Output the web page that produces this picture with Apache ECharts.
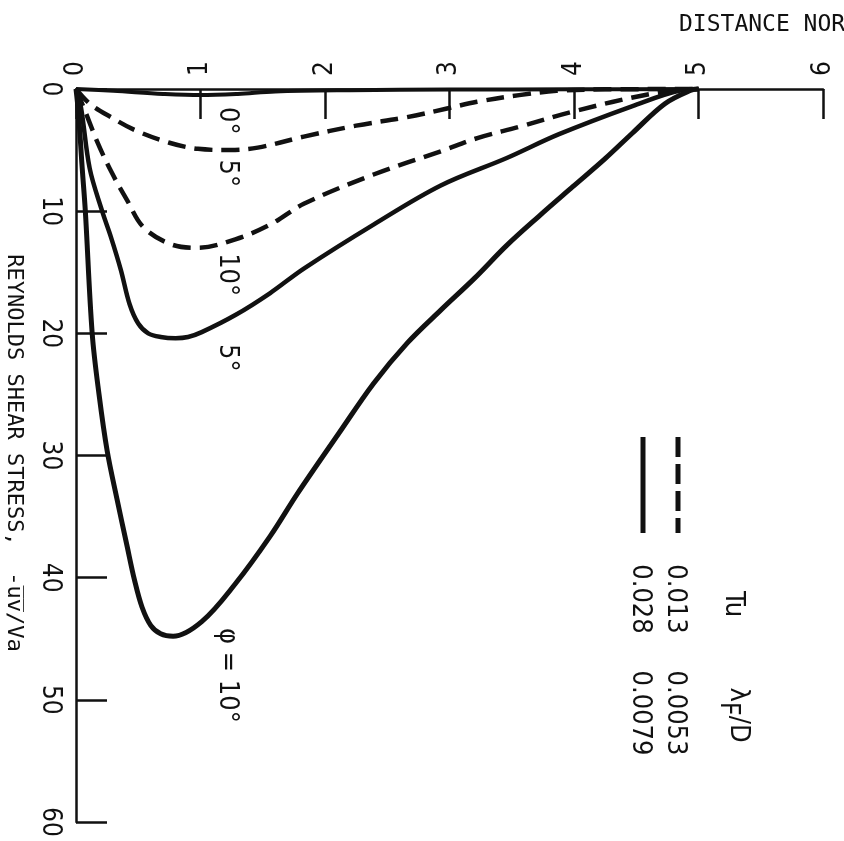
<!DOCTYPE html>
<html>
<head>
<meta charset="utf-8">
<script src="https://cdn.jsdelivr.net/npm/echarts@6/dist/echarts.min.js"></script>
<style>
  html, body { margin: 0; padding: 0; background: #fff; }
  #chart { width: 844px; height: 841px; }
</style>
</head>
<body>
<div id="chart"></div>
<script>
// Reynolds shear stress profiles across the layer, drawn turned on its side:
// distance runs along the top, stress runs downward.
const FONT = "'Liberation Sans Narrow', 'DejaVu Sans Condensed', 'Liberation Sans', sans-serif";
const MONO = "'DejaVu Sans Mono', 'Liberation Mono', monospace";
const INK = '#111';

// [distance normal, -uv/Va] pairs for each case
const solidPhi0 = [[0,0],[0.3,0.15],[0.7,0.4],[1.0,0.5],[1.3,0.4],[1.6,0.2],[2.2,0.1],[3,0.05],[4,0.02],[5,0]];
const dashedPhi5 = [[0,0],[0.11,1.2],[0.28,2.3],[0.48,3.4],[0.75,4.4],[0.98,4.9],[1.24,5.0],[1.46,4.8],[1.83,3.9],[2.25,3.0],[2.66,2.3],[2.98,1.6],[3.22,1.05],[3.56,0.5],[3.86,0.15],[4.25,0.03],[5,0]];
const dashedPhi10 = [[0,0],[0.065,1.6],[0.17,4.3],[0.28,6.7],[0.41,9.1],[0.54,11.3],[0.76,12.7],[0.98,13.0],[1.28,12.3],[1.56,11.1],[1.83,9.4],[2.39,7.0],[2.93,5.1],[3.23,4.0],[3.56,3.1],[3.99,1.85],[4.62,0.4],[5,0]];
const solidPhi5 = [[0,0],[0.04,1.5],[0.11,6.5],[0.21,10],[0.28,12.1],[0.36,14.8],[0.43,17.6],[0.5,19.2],[0.58,20.0],[0.68,20.3],[0.8,20.4],[0.9,20.3],[1.01,19.9],[1.28,18.5],[1.56,16.7],[1.83,14.7],[2.39,11.1],[2.93,7.9],[3.46,5.65],[3.88,3.7],[4.47,1.4],[4.86,0.1],[5,0]];
const solidPhi10 = [[0,0],[0.02,2],[0.05,6.5],[0.075,10],[0.13,20],[0.185,25.0],[0.25,29.6],[0.33,33.6],[0.41,37.4],[0.47,40.2],[0.53,42.4],[0.6,43.9],[0.68,44.6],[0.78,44.8],[1.01,43.6],[1.28,40.5],[1.56,36.6],[1.78,33.1],[2.11,28.2],[2.39,24.1],[2.66,20.8],[2.93,18.1],[3.2,15.5],[3.46,12.8],[3.72,10.4],[3.99,8.0],[4.25,5.7],[4.47,3.6],[4.73,1.2],[4.94,0.1],[5,0]];

// legend table values
const turbulence = ['0.013', '0.028'];
const lengthScale = ['0.0053', '0.0079'];

// curve annotations, anchored in data units [distance, stress]
const curveLabels = [
  { text: '0°', at: [1.21, 2.6] },
  { text: '5°', at: [1.21, 6.9] },
  { text: '10°', at: [1.21, 15.2] },
  { text: '5°', at: [1.21, 22.0] },
  { text: 'φ = 10°', at: [1.21, 48.0] }
];

const chart = echarts.init(document.getElementById('chart'), null, { renderer: 'canvas' });

function curve(data, dashed, width) {
  return {
    type: 'line',
    data: data,
    symbol: 'none',
    smooth: 0.35,
    clip: false,
    lineStyle: { color: INK, width: width, type: dashed ? [18, 9] : 'solid', cap: 'butt', join: 'round' },
    z: 3
  };
}

chart.setOption({
  animation: false,
  backgroundColor: '#fff',
  grid: { left: 76, top: 89, width: 747, height: 733, containLabel: false, outerBoundsMode: 'none' },
  xAxis: {
    type: 'value', position: 'top', min: 0, max: 6, interval: 1,
    axisLine: { show: true, onZero: false, lineStyle: { color: INK, width: 2.5 } },
    axisTick: { show: true, inside: true, length: 30, lineStyle: { color: INK, width: 2.5 } },
    axisLabel: { rotate: -90, margin: 13, fontFamily: FONT, fontSize: 26, color: INK },
    splitLine: { show: false }
  },
  yAxis: {
    type: 'value', inverse: true, min: 0, max: 60, interval: 10,
    axisLine: { show: true, onZero: false, lineStyle: { color: INK, width: 2.5 } },
    axisTick: { show: true, inside: true, length: 31, lineStyle: { color: INK, width: 2.5 } },
    axisLabel: { rotate: -90, margin: 13, fontFamily: FONT, fontSize: 26, color: INK },
    splitLine: { show: false }
  },
  series: [
    curve(solidPhi0, false, 4),
    curve(dashedPhi5, true, 4.5),
    curve(dashedPhi10, true, 4.5),
    curve(solidPhi5, false, 4.5),
    curve(solidPhi10, false, 5)
  ]
});

function vtext(x, y, text, size, family) {
  return {
    type: 'text', x: x, y: y, rotation: -Math.PI / 2, z: 10,
    style: {
      text: text, fontFamily: family || FONT, fontSize: size || 27, fill: INK,
      align: 'center', verticalAlign: 'middle',
      textAlign: 'center', textVerticalAlign: 'middle'
    }
  };
}

const graphics = [];

// axis titles
graphics.push({
  type: 'text', x: 679, y: 25, z: 10,
  style: { text: 'DISTANCE NORMAL', fontFamily: MONO, fontSize: 23, fill: INK,
           align: 'left', verticalAlign: 'middle', textAlign: 'left', textVerticalAlign: 'middle' }
});
graphics.push(vtext(14, 453, 'REYNOLDS SHEAR STRESS,  -u\u0305v\u0305/Va', 22, MONO));

// curve annotations
curveLabels.forEach(function (c) {
  const p = chart.convertToPixel({ gridIndex: 0 }, c.at);
  graphics.push(vtext(p[0], p[1], c.text));
});

// legend table
graphics.push(vtext(733, 604, 'Tu'));
graphics.push({
  type: 'text', x: 733, y: 715, rotation: -Math.PI / 2, z: 10,
  style: {
    text: '{n|λ}{s|F}{n|/D}', align: 'center', verticalAlign: 'middle',
    textAlign: 'center', textVerticalAlign: 'middle',
    rich: {
      n: { fontFamily: FONT, fontSize: 27, fill: INK, color: INK, verticalAlign: 'top' },
      s: { fontFamily: FONT, fontSize: 27, fill: INK, color: INK, verticalAlign: 'bottom', padding: [10, 0, 0, 0] }
    }
  }
});
const rowX = [675, 640];
turbulence.forEach(function (t, i) { graphics.push(vtext(rowX[i], 599, t)); });
lengthScale.forEach(function (t, i) { graphics.push(vtext(rowX[i], 713, t)); });
graphics.push({
  type: 'line', z: 10,
  shape: { x1: 678, y1: 437, x2: 678, y2: 533 },
  style: { stroke: INK, lineWidth: 5, lineDash: [20, 7] }
});
graphics.push({
  type: 'line', z: 10,
  shape: { x1: 643, y1: 437, x2: 643, y2: 533 },
  style: { stroke: INK, lineWidth: 5 }
});

chart.setOption({ graphic: { elements: graphics } });
</script>
</body>
</html>
